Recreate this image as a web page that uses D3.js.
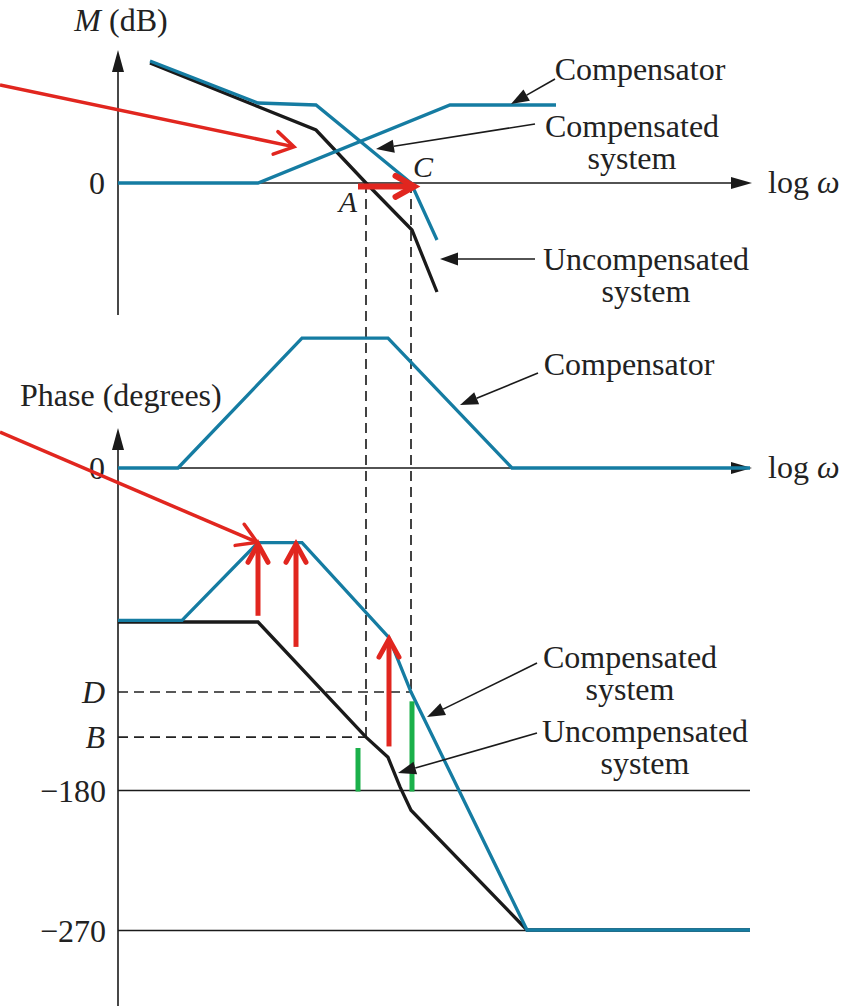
<!DOCTYPE html>
<html>
<head>
<meta charset="utf-8">
<script src="https://cdn.jsdelivr.net/npm/d3@7"></script>
<style>
  body { margin: 0; background: #fff; }
  svg { display: block; }
  text { font-family: "Liberation Serif", "Times New Roman", "DejaVu Serif", serif; fill: #222; }
</style>
</head>
<body>
<svg width="842" height="1006" font-family="Liberation Serif, Times New Roman, serif"></svg>
<script>
// ---- data (log w, value) ----
var compensatorMag = [[0, 0], [1.40, 0], [3.32, 39], [4.38, 39]];
var compensatedMag = [[0.32, 61], [1.40, 40], [1.98, 39], [2.93, 0], [3.19, -28.5]];
var uncompensatedMag = [[0.32, 60], [1.98, 26.5], [2.48, 0], [2.94, -23.5], [3.19, -54.5]];

var compensatorPhase = [[0, 0], [0.60, 0], [1.84, 83.5], [2.70, 83.5], [3.94, 0], [6.32, 0]];
var compensatedPhase = [[0, -71], [0.64, -71], [1.40, -21], [1.84, -21], [2.71, -82], [2.93, -117], [4.09, -270], [6.32, -270]];
var uncompensatedPhase = [[0, -72], [1.40, -72], [2.48, -146], [2.70, -159], [2.82, -178], [2.93, -193], [4.09, -270], [6.32, -270]];

var phaseTicks = [-180, -270];
var pointA = 2.48, pointC = 2.93;   // 0 dB crossings
var phaseB = -146, phaseD = -117;

// red lift arrows: [log w, from, to]
var phaseLift = [[1.40, -68, -21], [1.78, -88, -21], [2.71, -152, -82]];
// green marks: [log w, from, to]
var greenMarks = [[2.40, -153, -181], [2.94, -123, -181]];

var blue = '#157ca2', red = '#e1261f', green = '#1bb04a', ink = '#1a1a1a';
var fs = 32;

var svg = d3.select('svg');

var x = d3.scaleLinear().domain([0, 6.32]).range([118, 750]);
var yM = d3.scaleLinear().domain([0, 60]).range([183, 63]);
var yC = d3.scaleLinear().domain([0, 90]).range([468, 328]);
var yP = d3.scaleLinear().domain([-270, -180]).range([930, 790]);

function lineFor(ys) {
  return d3.line().x(function(d) { return x(d[0]); }).y(function(d) { return ys(d[1]); });
}

function filledArrow(g, x1, y1, x2, y2, len, half, color, width) {
  var a = Math.atan2(y2 - y1, x2 - x1);
  var bx = x2 - len * Math.cos(a), by = y2 - len * Math.sin(a);
  g.append('line').attr('x1', x1).attr('y1', y1).attr('x2', bx).attr('y2', by)
    .attr('stroke', color).attr('stroke-width', width);
  g.append('path')
    .attr('d', 'M' + x2 + ',' + y2 +
      'L' + (bx + half * Math.sin(a)) + ',' + (by - half * Math.cos(a)) +
      'L' + (bx - half * Math.sin(a)) + ',' + (by + half * Math.cos(a)) + 'Z')
    .attr('fill', color);
}

function openArrow(g, x1, y1, x2, y2, len, ang, color, width) {
  var a = Math.atan2(y2 - y1, x2 - x1);
  var t = ang * Math.PI / 180;
  var back = width * 0.9;
  g.append('line').attr('x1', x1).attr('y1', y1)
    .attr('x2', x2 - back * Math.cos(a)).attr('y2', y2 - back * Math.sin(a))
    .attr('stroke', color).attr('stroke-width', width);
  g.append('path')
    .attr('d', 'M' + (x2 - len * Math.cos(a - t)) + ',' + (y2 - len * Math.sin(a - t)) +
      'L' + (x2 - width * 0.3 * Math.cos(a)) + ',' + (y2 - width * 0.3 * Math.sin(a)) +
      'L' + (x2 - len * Math.cos(a + t)) + ',' + (y2 - len * Math.sin(a + t)))
    .attr('fill', 'none').attr('stroke', color).attr('stroke-width', width)
    .attr('stroke-linejoin', 'miter').attr('stroke-linecap', 'round');
}

var axisG = svg.append('g');

// vertical axes
filledArrow(axisG, x(0), yM(-66), x(0), yM(66.5), 22, 6, ink, 1.6);
filledArrow(axisG, x(0), 1006, x(0), yC(25.7), 22, 6, ink, 1.6);
// 0 lines with arrows
filledArrow(axisG, x(0), yM(0), x(6.34), yM(0), 21, 6, ink, 1.6);
filledArrow(axisG, x(0), yC(0), x(6.34), yC(0), 21, 6, ink, 1.6);

// phase ticks through d3 axis
var pAxis = svg.append('g')
  .attr('transform', 'translate(' + x(0) + ',0)')
  .call(d3.axisLeft(yP).tickValues(phaseTicks).tickSize(-(x(6.32) - x(0))).tickPadding(12)
    .tickFormat(function(d) { return '\u2212' + Math.abs(d); }));
pAxis.select('.domain').remove();
pAxis.selectAll('.tick line').attr('stroke', ink).attr('stroke-width', 1.6);
pAxis.selectAll('.tick text').attr('font-size', fs).attr('fill', '#222')
  .attr('font-family', 'Liberation Serif, Times New Roman, serif').attr('dy', '0.35em');

// axis text
svg.append('text').attr('x', x(0) + 3).attr('y', 31).attr('text-anchor', 'middle').attr('font-size', fs)
  .html('<tspan font-style="italic">M</tspan> (dB)');
svg.append('text').attr('x', 20).attr('y', 406).attr('font-size', fs).text('Phase (degrees)');
[yM(0), yC(0)].forEach(function(yy) {
  svg.append('text').attr('x', 105).attr('y', yy).attr('dy', '0.35em').attr('text-anchor', 'end')
    .attr('font-size', fs).text('0');
  svg.append('text').attr('x', 768).attr('y', yy + 10).attr('font-size', fs)
    .html('log <tspan font-style="italic">\u03c9</tspan>');
});

// dashed guides
var dash = svg.append('g').attr('stroke', '#222').attr('stroke-width', 1.7).attr('stroke-dasharray', '10,6').attr('fill', 'none');
dash.append('line').attr('x1', x(pointA)).attr('y1', yM(0)).attr('x2', x(pointA)).attr('y2', yP(phaseB));
dash.append('line').attr('x1', x(pointC)).attr('y1', yM(0)).attr('x2', x(pointC)).attr('y2', yP(phaseD));
dash.append('line').attr('x1', x(0)).attr('y1', yP(phaseB)).attr('x2', x(pointA)).attr('y2', yP(phaseB));
dash.append('line').attr('x1', x(0)).attr('y1', yP(phaseD)).attr('x2', x(pointC)).attr('y2', yP(phaseD));

svg.append('text').attr('x', 105).attr('y', yP(phaseD)).attr('dy', '0.33em').attr('text-anchor', 'end')
  .attr('font-size', fs).attr('font-style', 'italic').text('D');
svg.append('text').attr('x', 105).attr('y', yP(phaseB)).attr('dy', '0.35em').attr('text-anchor', 'end')
  .attr('font-size', fs).attr('font-style', 'italic').text('B');
svg.append('text').attr('x', x(pointA) - 9).attr('y', yM(0) + 29).attr('text-anchor', 'end')
  .attr('font-size', 30).attr('font-style', 'italic').text('A');
svg.append('text').attr('x', x(pointC) + 2).attr('y', yM(0) - 6)
  .attr('font-size', 30).attr('font-style', 'italic').text('C');

// curves
var curves = svg.append('g').attr('fill', 'none').attr('stroke-linejoin', 'miter');
curves.append('path').datum(uncompensatedMag).attr('d', lineFor(yM)).attr('stroke', ink).attr('stroke-width', 3.3);
curves.append('path').datum(uncompensatedPhase).attr('d', lineFor(yP)).attr('stroke', ink).attr('stroke-width', 3.3);
curves.append('path').datum(compensatorMag).attr('d', lineFor(yM)).attr('stroke', blue).attr('stroke-width', 3.3);
curves.append('path').datum(compensatedMag).attr('d', lineFor(yM)).attr('stroke', blue).attr('stroke-width', 3.3);
curves.append('path').datum(compensatorPhase).attr('d', lineFor(yC)).attr('stroke', blue).attr('stroke-width', 3.3);
curves.append('path').datum(compensatedPhase).attr('d', lineFor(yP)).attr('stroke', blue).attr('stroke-width', 3.3);

// red / green annotations
var marks = svg.append('g');
openArrow(marks, x(-1.18), yM(49), x(1.77), yM(18), 23, 30, red, 3.5);
openArrow(marks, x(-1.18), yP(50.1), x(1.40), yP(-21), 23, 30, red, 3.5);
openArrow(marks, x(2.40), yM(-1.7), x(2.98), yM(-1.7), 23, 27, red, 6);
phaseLift.forEach(function(d) {
  openArrow(marks, x(d[0]), yP(d[1]), x(d[0]), yP(d[2]), 22, 27, red, 5);
});
marks.selectAll('.green').data(greenMarks).enter().append('line')
  .attr('x1', function(d) { return x(d[0]); }).attr('x2', function(d) { return x(d[0]); })
  .attr('y1', function(d) { return yP(d[1]); }).attr('y2', function(d) { return yP(d[2]); })
  .attr('stroke', green).attr('stroke-width', 5);

// leader arrows
var lead = svg.append('g');
filledArrow(lead, x(4.37), yM(52), x(3.93), yM(39.5), 18, 6.5, ink, 1.6);
filledArrow(lead, x(4.17), yM(29.5), x(2.58), yM(17), 18, 6.5, ink, 1.6);
filledArrow(lead, x(4.17), yM(-38), x(3.22), yM(-38), 18, 6.5, ink, 1.6);
filledArrow(lead, x(4.20), yC(61), x(3.42), yC(40.5), 18, 6.5, ink, 1.6);
filledArrow(lead, x(4.19), yP(-98.4), x(3.09), yP(-133.1), 18, 6.5, ink, 1.6);
filledArrow(lead, x(4.19), yP(-143.4), x(2.80), yP(-169.1), 18, 6.5, ink, 1.6);

function label(lines, cx, cy) {
  var t = svg.append('text').attr('text-anchor', 'middle').attr('font-size', fs);
  lines.forEach(function(s, i) {
    t.append('tspan').attr('x', cx).attr('y', cy + i * 32).text(s);
  });
}
label(['Compensator'], x(5.22), yM(51.5));
label(['Compensated', 'system'], x(5.14), yM(23));
label(['Uncompensated', 'system'], x(5.28), yM(-43.5));
label(['Compensator'], x(5.11), yC(59.8));
label(['Compensated', 'system'], x(5.12), yP(-101.6));
label(['Uncompensated', 'system'], x(5.27), yP(-149.1));
</script>
</body>
</html>
